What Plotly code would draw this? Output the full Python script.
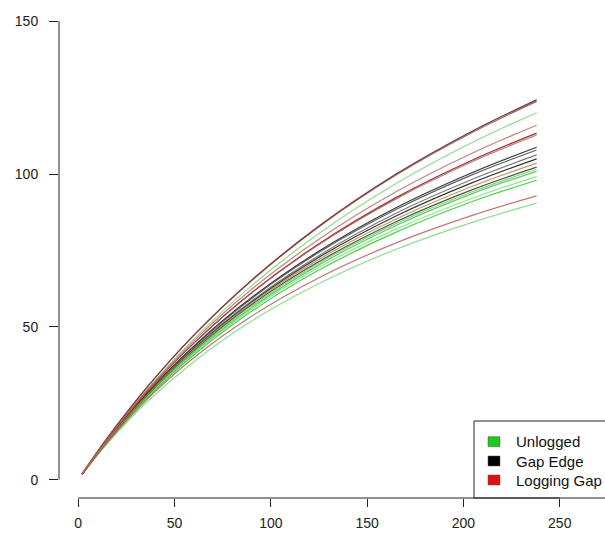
import plotly.graph_objects as go

# Number of individuals sampled (x) at which curve values were read
individuals = [2, 15, 35, 60, 90, 125, 165, 205, 238]

# Species accumulation curves
unlogged_curves = [
    [1.9, 13.3, 29.0, 46.0, 63.5, 80.6, 96.9, 110.5, 120.1],
    [1.8, 12.5, 26.9, 41.9, 56.8, 70.9, 83.8, 94.3, 101.6],
    [1.7, 12.4, 26.6, 41.6, 56.3, 70.3, 83.2, 93.7, 100.9],
    [1.7, 12.3, 26.5, 41.3, 55.8, 69.5, 82.0, 92.2, 99.2],
    [1.7, 12.2, 26.2, 40.8, 55.1, 68.6, 81.0, 91.1, 98.0],
    [1.7, 11.7, 25.0, 38.6, 51.9, 64.2, 75.4, 84.3, 90.5],
]
unlogged_colors = ["rgba(120,215,120,0.85)", "rgba(110,210,110,0.85)", "rgba(60,200,60,0.85)",
                   "rgba(130,220,130,0.85)", "rgba(40,205,40,0.85)", "rgba(120,220,120,0.85)"]

gap_edge_curves = [
    [1.9, 13.6, 29.7, 47.3, 65.3, 83.0, 100.0, 114.2, 124.3],
    [1.8, 12.8, 27.8, 43.7, 59.6, 74.8, 89.0, 100.6, 108.8],
    [1.8, 12.8, 27.7, 43.5, 59.3, 74.4, 88.4, 99.9, 107.9],
    [1.8, 12.7, 27.4, 43.0, 58.5, 73.4, 87.2, 98.4, 106.3],
    [1.8, 12.7, 27.3, 42.8, 58.1, 72.8, 86.3, 97.3, 105.0],
    [1.8, 12.6, 27.1, 42.3, 57.3, 71.4, 84.4, 95.0, 102.3],
]
gap_edge_colors = ["rgba(70,45,45,0.9)", "rgba(35,35,35,0.9)", "rgba(70,70,70,0.85)",
                   "rgba(100,100,100,0.85)", "rgba(20,20,20,0.85)", "rgba(50,50,50,0.85)"]

logging_gap_curves = [
    [1.9, 13.5, 29.7, 47.2, 65.1, 82.8, 99.7, 113.8, 123.8],
    [1.8, 13.2, 28.7, 45.4, 62.3, 78.7, 94.2, 107.0, 116.0],
    [1.8, 13.0, 28.3, 44.7, 61.2, 77.2, 92.3, 104.7, 113.4],
    [1.8, 13.0, 28.3, 44.6, 61.1, 77.0, 91.9, 104.2, 112.8],
    [1.8, 12.7, 27.2, 42.6, 57.7, 72.1, 85.3, 96.1, 103.6],
    [1.7, 12.1, 25.8, 39.9, 53.5, 66.1, 77.5, 86.6, 92.9],
]
logging_gap_colors = ["rgba(150,60,60,0.85)", "rgba(185,110,110,0.85)", "rgba(140,30,30,0.9)",
                      "rgba(175,85,85,0.8)", "rgba(175,140,70,0.85)", "rgba(180,95,95,0.85)"]

legend_labels = ["Unlogged", "Gap Edge", "Logging Gap"]
legend_colors = ["#1ec81e", "#000000", "#e01010"]

x_ticks = [0, 50, 100, 150, 200, 250]
y_ticks = [0, 50, 100, 150]

fig = go.Figure()
for curves, colors in [(unlogged_curves, unlogged_colors),
                       (gap_edge_curves, gap_edge_colors),
                       (logging_gap_curves, logging_gap_colors)]:
    for vals, col in zip(curves, colors):
        fig.add_trace(go.Scatter(x=individuals, y=vals, mode="lines",
                                 line=dict(color=col, width=1.2, shape="spline"),
                                 showlegend=False, hoverinfo="skip"))

W, H = 605, 539
L, R, T, B = 59, 26, 3, 41
pw, ph = W - L - R, H - T - B

def px(xp):
    return (xp - L) / pw

def py(yp):
    return (H - B - yp) / ph

shapes = [
    dict(type="line", xref="paper", yref="y", x0=0, x1=0, y0=0, y1=150,
         line=dict(color="#222", width=1)),
    dict(type="line", xref="x", yref="paper", x0=0, x1=250, y0=0, y1=0,
         line=dict(color="#222", width=1)),
    dict(type="rect", xref="paper", yref="paper", x0=px(474), x1=px(615), y0=0, y1=py(421),
         line=dict(color="#222", width=1), fillcolor="rgba(255,255,255,0)"),
]
annotations = []
centers = [441.7, 461.0, 480.0]
for lab, col, cy in zip(legend_labels, legend_colors, centers):
    shapes.append(dict(type="rect", xref="paper", yref="paper",
                       x0=px(488), x1=px(500), y0=py(cy + 5), y1=py(cy - 5),
                       line=dict(color="#555", width=0.5), fillcolor=col))
    annotations.append(dict(xref="paper", yref="paper", x=px(514), y=py(cy),
                            xanchor="left", yanchor="middle", text=lab, showarrow=False,
                            font=dict(family="Liberation Sans, Arial", size=15, color="#111")))

fig.update_layout(
    width=W, height=H, margin=dict(l=L, r=R, t=T, b=B),
    paper_bgcolor="white", plot_bgcolor="white",
    font=dict(family="Liberation Sans, Arial", size=14, color="#222"),
    shapes=shapes, annotations=annotations,
    xaxis=dict(range=[-10, 260], tickvals=x_ticks, ticks="outside", ticklen=8,
               tickcolor="#222", showline=False, zeroline=False, showgrid=False,
               ticklabelstandoff=4, tickfont=dict(size=14)),
    yaxis=dict(range=[-6, 156], tickvals=y_ticks, ticks="outside", ticklen=9,
               tickcolor="#222", showline=False, zeroline=False, showgrid=False,
               ticklabelstandoff=8, tickfont=dict(size=14)),
)
fig.write_html("out.html")
